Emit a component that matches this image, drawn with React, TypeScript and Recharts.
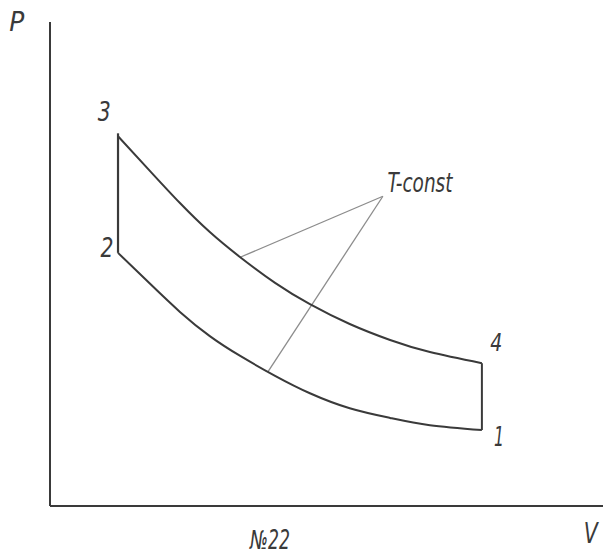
import React from 'react';
import { LineChart, Line, XAxis, YAxis, ReferenceDot } from 'recharts';

// Volume samples (shared by both isotherms)
const volume = [1.23, 1.81, 2.35, 2.89, 3.44, 4.07, 4.7, 5.42, 6.15, 6.87, 7.81];
// Upper isotherm 3 -> 4
const pressureHot = [7.64, 6.92, 6.26, 5.66, 5.14, 4.61, 4.17, 3.76, 3.43, 3.18, 2.95];
// Lower isotherm 2 -> 1
const pressureCold = [5.23, 4.59, 4.01, 3.51, 3.1, 2.69, 2.33, 2.02, 1.82, 1.67, 1.57];

// Leader lines from the "T-const" note
const noteApex = { v: 6.02, p: 6.4 };
const noteTargetHot = { v: 3.44, p: 5.14 };
const noteTargetCold = { v: 3.94, p: 2.77 };

// Text labels
const labelTexts = ['3', '2', '4', '1', 'T-const', 'P', 'V', '№22'];
const labelV = [0.98, 1.03, 8.07, 8.12, 6.69, -0.6, 9.78, 3.98];
const labelP = [8.14, 5.33, 3.37, 1.43, 6.67, 10.0, -0.56, -0.7];
const labelWidths = [13, 13, 12, 10, 65, 15, 14, 40];
const labelSizes = [26, 26, 24, 26, 26, 26, 28, 26];

const hotData = volume.map((v, i) => ({ v, p: pressureHot[i] }));
const coldData = volume.map((v, i) => ({ v, p: pressureCold[i] }));
const leftEdge = [
  { v: volume[0], p: pressureHot[0] + 0.06 },
  { v: volume[0], p: pressureCold[0] },
];
const rightEdge = [
  { v: volume[volume.length - 1], p: pressureHot[pressureHot.length - 1] },
  { v: volume[volume.length - 1], p: pressureCold[pressureCold.length - 1] },
];
const leaderHot = [noteApex, noteTargetHot];
const leaderCold = [noteApex, noteTargetCold];

const INK = '#3a3a3a';
const FONT = "'DejaVu Sans Condensed', 'DejaVu Sans', sans-serif";

const makeLabel = (text: string, width: number, size: number) => (props: any) => {
  const vb = props.viewBox || {};
  const x = (vb.x ?? 0) + (vb.width ?? 0) / 2;
  const y = (vb.y ?? 0) + (vb.height ?? 0) / 2;
  return (
    <text
      x={x}
      y={y}
      textAnchor="middle"
      dominantBaseline="central"
      fontFamily={FONT}
      fontStyle="italic"
      fontSize={size}
      fill={INK}
      textLength={width}
      lengthAdjust="spacingAndGlyphs"
    >
      {text}
    </text>
  );
};

export default function App() {
  return (
    <LineChart
      width={605}
      height={546}
      margin={{ top: 14, right: 10, bottom: 47, left: 41 }}
      style={{ background: '#ffffff' }}
    >
      <XAxis
        type="number"
        dataKey="v"
        domain={[0, 10]}
        tick={false}
        tickLine={false}
        height={1}
        axisLine={{ stroke: INK, strokeWidth: 2 }}
        allowDataOverflow
      />
      <YAxis
        type="number"
        dataKey="p"
        domain={[0, 10]}
        tick={false}
        tickLine={false}
        width={1}
        axisLine={{ stroke: INK, strokeWidth: 2 }}
        allowDataOverflow
      />
      <Line data={leaderHot} dataKey="p" type="linear" stroke="#8c8c8c" strokeWidth={1.3} dot={false} isAnimationActive={false} />
      <Line data={leaderCold} dataKey="p" type="linear" stroke="#8c8c8c" strokeWidth={1.3} dot={false} isAnimationActive={false} />
      <Line data={hotData} dataKey="p" type="natural" stroke={INK} strokeWidth={2} dot={false} isAnimationActive={false} />
      <Line data={coldData} dataKey="p" type="natural" stroke={INK} strokeWidth={2} dot={false} isAnimationActive={false} />
      <Line data={leftEdge} dataKey="p" type="linear" stroke={INK} strokeWidth={2.2} dot={false} isAnimationActive={false} />
      <Line data={rightEdge} dataKey="p" type="linear" stroke={INK} strokeWidth={2} dot={false} isAnimationActive={false} />
      {labelTexts.map((t, i) => (
        <ReferenceDot
          key={t}
          x={labelV[i]}
          y={labelP[i]}
          r={0}
          stroke="none"
          fill="none"
          ifOverflow="visible"
          label={makeLabel(t, labelWidths[i], labelSizes[i])}
        />
      ))}
    </LineChart>
  );
}
